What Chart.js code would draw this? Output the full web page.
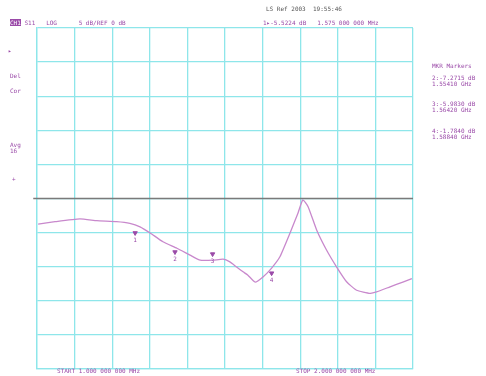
<!DOCTYPE html>
<html>
<head>
<meta charset="utf-8">
<script src="https://cdn.jsdelivr.net/npm/chart.js@4/dist/chart.umd.min.js"></script>
<style>
  body { margin: 0; background: #fff; }
  #wrap { position: relative; width: 486px; height: 376px; }
  .t { position: absolute; font-family: "DejaVu Sans Mono", monospace; font-size: 6px; color: #9a4aa8; white-space: pre; line-height: 6px; }
  .g { color: #555; }
</style>
</head>
<body>
<div id="wrap">
  <canvas id="c" width="486" height="376"></canvas>
  <div class="t g" style="left:266px;top:6px;">LS Ref 2003  19:55:46</div>
  <div class="t" style="left:10px;top:20px;"><span style="background:#9a4aa8;color:#fff">CH1</span> S11   LOG      5 dB/REF 0 dB</div>
  <div class="t" style="left:263px;top:20px;">1▸-5.5224 dB   1.575 000 000 MHz</div>
  <div class="t" style="left:8px;top:48px;">▸</div>
  <div class="t" style="left:10px;top:73px;">Del</div>
  <div class="t" style="left:10px;top:88px;">Cor</div>
  <div class="t" style="left:10px;top:142px;">Avg
16</div>
  <div class="t" style="left:12px;top:176px;">+</div>
  <div class="t" style="left:432px;top:63px;">MKR Markers</div>
  <div class="t" style="left:432px;top:75px;">2:-7.2715 dB
1.55410 GHz</div>
  <div class="t" style="left:432px;top:101px;">3:-5.9830 dB
1.56420 GHz</div>
  <div class="t" style="left:432px;top:128px;">4:-1.7840 dB
1.58840 GHz</div>
  <div class="t" style="left:57px;top:368px;">START 1.000 000 000 MHz</div>
  <div class="t" style="left:296px;top:368px;">STOP 2.000 000 000 MHz</div>
</div>
<script>
// trace in screen divisions (x 0..10, y 0..10, reference at 5)
const traceX = [0.03, 0.48, 1.14, 1.59, 2.12, 2.47, 2.74, 3.01, 3.35, 3.72, 4.07, 4.34, 4.68, 4.95, 5.13, 5.31, 5.48, 5.61, 5.80, 6.01, 6.24, 6.46, 6.73, 6.94, 7.07, 7.21, 7.44, 7.70, 7.97, 8.24, 8.50, 8.86, 9.03, 9.39, 9.73, 9.97];
const traceY = [4.25, 4.32, 4.40, 4.35, 4.32, 4.27, 4.17, 3.99, 3.73, 3.54, 3.34, 3.19, 3.19, 3.22, 3.14, 2.99, 2.85, 2.75, 2.55, 2.70, 2.96, 3.29, 3.99, 4.57, 4.96, 4.76, 4.07, 3.49, 2.99, 2.55, 2.31, 2.22, 2.26, 2.41, 2.55, 2.65];
const markerX = [2.61, 3.67, 4.67, 6.24];
const markerY = [3.99, 3.43, 3.37, 2.81];
const markerNames = ['1', '2', '3', '4'];
const refLevel = 5;

const markerLabels = {
  id: 'markerLabels',
  afterDatasetsDraw(chart) {
    const meta = chart.getDatasetMeta(2);
    const ctx = chart.ctx;
    ctx.save();
    ctx.fillStyle = '#9a4aa8';
    ctx.font = '6px "DejaVu Sans Mono"';
    ctx.textAlign = 'center';
    meta.data.forEach((pt, i) => ctx.fillText(markerNames[i], pt.x, pt.y + 9));
    ctx.restore();
  }
};

new Chart(document.getElementById('c'), {
  type: 'scatter',
  data: {
    datasets: [
      { data: traceX.map((x, i) => ({ x, y: traceY[i] })), showLine: true, borderColor: '#c888cc', borderWidth: 1.3, pointRadius: 0, tension: 0.15 },
      { data: [{ x: -0.1, y: refLevel }, { x: 10, y: refLevel }], showLine: true, borderColor: '#7a7a7a', borderWidth: 1.6, pointRadius: 0, clip: false },
      { data: markerX.map((x, i) => ({ x, y: markerY[i] })), pointStyle: 'triangle', rotation: 180, pointRadius: 2.5, backgroundColor: '#9a4aa8', borderColor: '#9a4aa8' }
    ]
  },
  options: {
    responsive: false,
    animation: false,
    layout: { padding: { left: 37, right: 73, top: 28, bottom: 7 } },
    plugins: { legend: { display: false }, tooltip: { enabled: false } },
    scales: {
      x: { type: 'linear', min: 0, max: 10, ticks: { display: false, stepSize: 1 }, grid: { color: '#8ee6ea', lineWidth: 1.3, drawTicks: false }, border: { color: '#8ee6ea', width: 1.3 } },
      y: { min: 0, max: 10, ticks: { display: false, stepSize: 1 }, grid: { color: '#8ee6ea', lineWidth: 1.3, drawTicks: false }, border: { color: '#8ee6ea', width: 1.3 } }
    }
  },
  plugins: [markerLabels]
});
</script>
</body>
</html>
